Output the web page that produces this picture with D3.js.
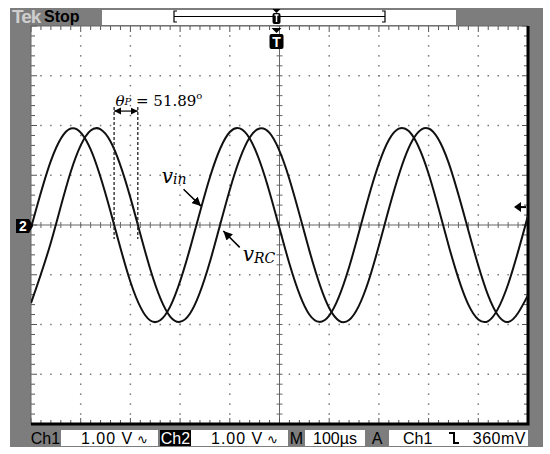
<!DOCTYPE html>
<html>
<head>
<meta charset="utf-8">
<script src="https://cdn.jsdelivr.net/npm/d3@7"></script>
<style>
  body { margin: 0; background: #fff; }
  svg { display: block; }
</style>
</head>
<body>
<svg id="scope" width="550" height="454"></svg>
<script>
// samples (time in µs, trigger at centre; volts)
const timeUs = [-500, -460, -420, -380, -340, -300, -260, -220, -180, -140, -100, -60, -20,
                20, 60, 100, 140, 180, 220, 260, 300, 340, 380, 420, 460, 500];
const vIn = [-0.06, 1.29, 1.94, 1.52, 0.27, -1.14, -1.92, -1.64, -0.47, 0.96, 1.87, 1.74, 0.66,
             -0.78, -1.80, -1.82, -0.85, 0.59, 1.71, 1.89, 1.03, -0.40, -1.60, -1.93, -1.19, 0.19];
const vRC = [-1.57, -0.35, 1.07, 1.90, 1.68, 0.55, -0.89, -1.84, -1.78, -0.74, 0.71, 1.76, 1.85,
             0.92, -0.51, -1.67, -1.91, -1.10, 0.32, 1.55, 1.94, 1.26, -0.11, -1.42, -1.95, -1.41];

// falling zero crossings used for the phase marker (µs)
const phaseMarks = [-332.8, -285.1];
const phaseLabel = "51.89";

const triggerLevel = 0.36;   // V
const triggerPos = -6;       // µs
const statusItems = [
  {text: "Ch1", bg: "#7d7d7d", fg: "#000", x0: 30, x1: 61},
  {text: "1.00 V", wave: true, bg: "#fff", fg: "#000", x0: 61, x1: 158},
  {text: "Ch2", bg: "#000", fg: "#fff", x0: 160, x1: 191},
  {text: "1.00 V", wave: true, bg: "#fff", fg: "#000", x0: 191, x1: 288},
  {text: "M", bg: "#7d7d7d", fg: "#000", x0: 288, x1: 305},
  {text: "100\u00b5s", bg: "#fff", fg: "#000", x0: 305, x1: 365},
  {text: "A", bg: "#7d7d7d", fg: "#000", x0: 365, x1: 389},
  {text: "Ch1", bg: "#fff", fg: "#000", x0: 389, x1: 528, edge: true, level: "360mV"}
];

const frame = {left: 10, top: 8, right: 543, bottom: 447};
const plot = {left: 31, top: 26, right: 528, bottom: 424};
const gray = "#7d7d7d";

const svg = d3.select('#scope');

const x = d3.scaleLinear().domain([-500, 500]).range([plot.left, plot.right]);
const y = d3.scaleLinear().domain([-4, 4]).range([plot.bottom, plot.top]);

// frame
svg.append('rect')
    .attr('x', frame.left).attr('y', frame.top)
    .attr('width', frame.right - frame.left).attr('height', frame.bottom - frame.top)
    .attr('fill', gray);

svg.append('rect')
    .attr('x', plot.left).attr('y', plot.top)
    .attr('width', plot.right - plot.left).attr('height', plot.bottom - plot.top)
    .attr('fill', '#fff');

// top status bar
const topBar = svg.append('g');
topBar.append('text')
    .attr('x', 12).attr('y', 23)
    .attr('font-family', 'Liberation Sans').attr('font-size', 19).attr('font-weight', 'bold')
    .attr('fill', '#cfcfcf').attr('letter-spacing', -1)
    .text('Tek');
topBar.append('text')
    .attr('x', 44).attr('y', 22)
    .attr('font-family', 'Liberation Sans').attr('font-size', 16).attr('font-weight', 'bold')
    .attr('fill', '#000')
    .text('Stop');
topBar.append('rect')
    .attr('x', 102).attr('y', 10).attr('width', 354).attr('height', 15)
    .attr('fill', '#fff');
topBar.append('path')
    .attr('d', 'M177,11 H174 V22 H177 M174,16.5 H385 M382,11 H385 V22 H382')
    .attr('fill', 'none').attr('stroke', '#000').attr('stroke-width', 1.2);
topBar.append('path')
    .attr('d', `M${x(triggerPos) - 4},9 H${x(triggerPos) + 4} L${x(triggerPos)},13 Z`)
    .attr('fill', '#000');
topBar.append('rect')
    .attr('x', x(triggerPos) - 4).attr('y', 13).attr('width', 8).attr('height', 11).attr('rx', 2)
    .attr('fill', '#000');
topBar.append('path')
    .attr('d', `M${x(triggerPos) - 2},15 H${x(triggerPos) + 2} M${x(triggerPos)},15 V22`)
    .attr('stroke', '#fff').attr('stroke-width', 1.5);

// grid
const grid = svg.append('g');
const majorT = d3.range(-500, 501, 100);
const minorT = d3.range(-500, 501, 20);
const majorV = d3.range(-4, 4.001, 1);
const minorV = d3.range(-4, 4.001, 0.2);

majorT.filter(t => t !== 0 && Math.abs(t) !== 500).forEach(t => {
  grid.selectAll(null)
      .data(minorV.filter(v => Math.abs(v) < 3.99))
      .join('rect')
      .attr('x', x(t) - 0.75).attr('y', v => y(v) - 0.75)
      .attr('width', 1.5).attr('height', 1.5)
      .attr('fill', '#777');
});
majorV.filter(v => v !== 0 && Math.abs(v) !== 4).forEach(v => {
  grid.selectAll(null)
      .data(minorT.filter(t => Math.abs(t) < 499))
      .join('rect')
      .attr('x', t => x(t) - 0.75).attr('y', y(v) - 0.75)
      .attr('width', 1.5).attr('height', 1.5)
      .attr('fill', '#777');
});

// centre cross
grid.append('line')
    .attr('x1', plot.left).attr('x2', plot.right).attr('y1', y(0)).attr('y2', y(0))
    .attr('stroke', '#666').attr('stroke-width', 1);
grid.append('line')
    .attr('x1', x(0)).attr('x2', x(0)).attr('y1', plot.top).attr('y2', plot.bottom)
    .attr('stroke', '#666').attr('stroke-width', 1);
grid.selectAll('.ctick-x')
    .data(minorT)
    .join('line')
    .attr('x1', t => x(t)).attr('x2', t => x(t))
    .attr('y1', y(0) - 3).attr('y2', y(0) + 3)
    .attr('stroke', '#666');
grid.selectAll('.ctick-y')
    .data(minorV)
    .join('line')
    .attr('x1', x(0) - 3).attr('x2', x(0) + 3)
    .attr('y1', v => y(v)).attr('y2', v => y(v))
    .attr('stroke', '#666');

// edge ticks
const isMajorT = t => Math.abs(t % 100) < 1e-6;
const isMajorV = v => Math.abs(v - Math.round(v)) < 1e-6;
grid.selectAll('.etick-top')
    .data(minorT)
    .join('line')
    .attr('x1', t => x(t)).attr('x2', t => x(t))
    .attr('y1', plot.top).attr('y2', t => plot.top + (isMajorT(t) ? 6 : 4))
    .attr('stroke', '#555');
grid.selectAll('.etick-bottom')
    .data(minorT)
    .join('line')
    .attr('x1', t => x(t)).attr('x2', t => x(t))
    .attr('y1', plot.bottom).attr('y2', t => plot.bottom - (isMajorT(t) ? 6 : 4))
    .attr('stroke', '#555');
grid.selectAll('.etick-left')
    .data(minorV)
    .join('line')
    .attr('x1', plot.left).attr('x2', v => plot.left + (isMajorV(v) ? 6 : 4))
    .attr('y1', v => y(v)).attr('y2', v => y(v))
    .attr('stroke', '#555');
grid.selectAll('.etick-right')
    .data(minorV)
    .join('line')
    .attr('x1', plot.right).attr('x2', v => plot.right - (isMajorV(v) ? 6 : 4))
    .attr('y1', v => y(v)).attr('y2', v => y(v))
    .attr('stroke', '#555');

// border
grid.append('path')
    .attr('d', `M${plot.left},${plot.bottom} V${plot.top} H${plot.right}`)
    .attr('fill', 'none').attr('stroke', '#666').attr('stroke-width', 1);
grid.append('path')
    .attr('d', `M${plot.left},${plot.bottom} H${plot.right} V${plot.top}`)
    .attr('fill', 'none').attr('stroke', '#000').attr('stroke-width', 3);

// waveforms
svg.append('clipPath').attr('id', 'clip')
    .append('rect')
    .attr('x', plot.left).attr('y', plot.top)
    .attr('width', plot.right - plot.left).attr('height', plot.bottom - plot.top);

const line = d3.line()
    .x(d => x(d.t))
    .y(d => y(d.v))
    .curve(d3.curveNatural);

const series = [
  timeUs.map((t, i) => ({t, v: vIn[i]})),
  timeUs.map((t, i) => ({t, v: vRC[i]}))
];

svg.append('g').attr('clip-path', 'url(#clip)')
    .selectAll('path')
    .data(series)
    .join('path')
    .attr('d', line)
    .attr('fill', 'none')
    .attr('stroke', '#111')
    .attr('stroke-width', 2);

// channel ground marker "2"
const gy = y(0) + 1;
svg.append('path')
    .attr('d', `M16,${gy - 7} H29 L33,${gy} L29,${gy + 7} H16 Z`)
    .attr('fill', '#000');
svg.append('text')
    .attr('x', 23).attr('y', gy + 5)
    .attr('text-anchor', 'middle')
    .attr('font-family', 'Liberation Sans').attr('font-size', 14).attr('font-weight', 'bold')
    .attr('fill', '#fff')
    .text('2');

// trigger level arrow
const ty = y(triggerLevel);
svg.append('path')
    .attr('d', `M514,${ty} L521,${ty - 5} L521,${ty + 5} Z`)
    .attr('fill', '#000');
svg.append('line')
    .attr('x1', 520).attr('x2', 526).attr('y1', ty).attr('y2', ty)
    .attr('stroke', '#000').attr('stroke-width', 2);

// trigger position marker
const tx = x(triggerPos);
svg.append('path')
    .attr('d', `M${tx - 5},28 H${tx + 5} L${tx},33 Z`)
    .attr('fill', '#000');
svg.append('rect')
    .attr('x', tx - 7).attr('y', 34).attr('width', 14).attr('height', 15).attr('rx', 2)
    .attr('fill', '#000');
svg.append('text')
    .attr('x', tx).attr('y', 47)
    .attr('text-anchor', 'middle')
    .attr('font-family', 'Liberation Sans').attr('font-size', 14).attr('font-weight', 'bold')
    .attr('fill', '#fff')
    .text('T');

// phase annotation
const ann = svg.append('g').attr('font-family', 'DejaVu Serif').attr('fill', '#000');
ann.selectAll('.phase-line')
    .data(phaseMarks)
    .join('line')
    .attr('x1', d => x(d)).attr('x2', d => x(d))
    .attr('y1', y(2.37)).attr('y2', y(-0.28))
    .attr('stroke', '#222').attr('stroke-width', 1.3)
    .attr('stroke-dasharray', '3,2');

svg.append('defs').append('marker')
    .attr('id', 'ah')
    .attr('viewBox', '0 0 10 10')
    .attr('refX', 10).attr('refY', 5)
    .attr('markerWidth', 6).attr('markerHeight', 6)
    .attr('orient', 'auto-start-reverse')
    .append('path')
    .attr('d', 'M0,0 L10,5 L0,10 Z')
    .attr('fill', '#000');

ann.append('line')
    .attr('x1', x(phaseMarks[0])).attr('x2', x(phaseMarks[1]))
    .attr('y1', y(2.29)).attr('y2', y(2.29))
    .attr('stroke', '#000').attr('stroke-width', 1.2)
    .attr('marker-start', 'url(#ah)').attr('marker-end', 'url(#ah)');

const thetaText = ann.append('text')
    .attr('x', x(-330)).attr('y', y(2.39))
    .attr('font-size', 15);
thetaText.append('tspan').attr('font-style', 'italic').text('\u03b8');
thetaText.append('tspan').attr('font-style', 'italic').attr('font-size', 10).attr('dy', -1).text('P');
thetaText.append('tspan').attr('dy', 1).text(' = ' + phaseLabel);
thetaText.append('tspan').attr('font-size', 10).attr('dy', -7).text('o');

// signal labels
const vinText = ann.append('text')
    .attr('x', x(-237)).attr('y', y(0.85))
    .attr('font-style', 'italic');
vinText.append('tspan').attr('font-size', 20).text('v');
vinText.append('tspan').attr('font-size', 14).attr('dy', 1).text('in');

ann.append('line')
    .attr('x1', x(-193)).attr('y1', y(0.72))
    .attr('x2', x(-158)).attr('y2', y(0.38))
    .attr('stroke', '#000').attr('stroke-width', 1.5)
    .attr('marker-end', 'url(#ah)');

const vrcText = ann.append('text')
    .attr('x', x(-74)).attr('y', y(-0.72))
    .attr('font-style', 'italic');
vrcText.append('tspan').attr('font-size', 20).text('v');
vrcText.append('tspan').attr('font-size', 14).attr('dy', 2).text('RC');

ann.append('line')
    .attr('x1', x(-80)).attr('y1', y(-0.45))
    .attr('x2', x(-113)).attr('y2', y(-0.12))
    .attr('stroke', '#000').attr('stroke-width', 1.5)
    .attr('marker-end', 'url(#ah)');

// bottom status bar
const bar = svg.append('g').attr('font-family', 'Liberation Sans').attr('font-size', 16);
const barTop = 430, barH = 16, base = 444;
statusItems.forEach(d => {
  bar.append('rect')
      .attr('x', d.x0).attr('y', barTop).attr('width', d.x1 - d.x0).attr('height', barH)
      .attr('fill', d.bg);
  if (d.wave) {
    bar.append('text').attr('x', d.x0 + 20).attr('y', base).attr('fill', d.fg)
        .attr('letter-spacing', 1).text(d.text);
    bar.append('text').attr('x', d.x0 + 76).attr('y', base).attr('fill', d.fg)
        .attr('font-family', 'DejaVu Sans').attr('font-size', 13).text('\u223f');
  } else if (d.edge) {
    bar.append('text').attr('x', d.x0 + 14).attr('y', base).attr('fill', d.fg).text(d.text);
    bar.append('path')
        .attr('d', `M${d.x0 + 60},${barTop + 3} H${d.x0 + 65} V${barTop + 13} H${d.x0 + 70}`)
        .attr('fill', 'none').attr('stroke', '#000').attr('stroke-width', 2);
    bar.append('text').attr('x', d.x1 - 2).attr('y', base).attr('fill', d.fg)
        .attr('text-anchor', 'end').attr('letter-spacing', 0.5).text(d.level);
  } else {
    bar.append('text').attr('x', (d.x0 + d.x1) / 2).attr('y', base).attr('fill', d.fg)
        .attr('text-anchor', 'middle').text(d.text);
  }
});
</script>
</body>
</html>
